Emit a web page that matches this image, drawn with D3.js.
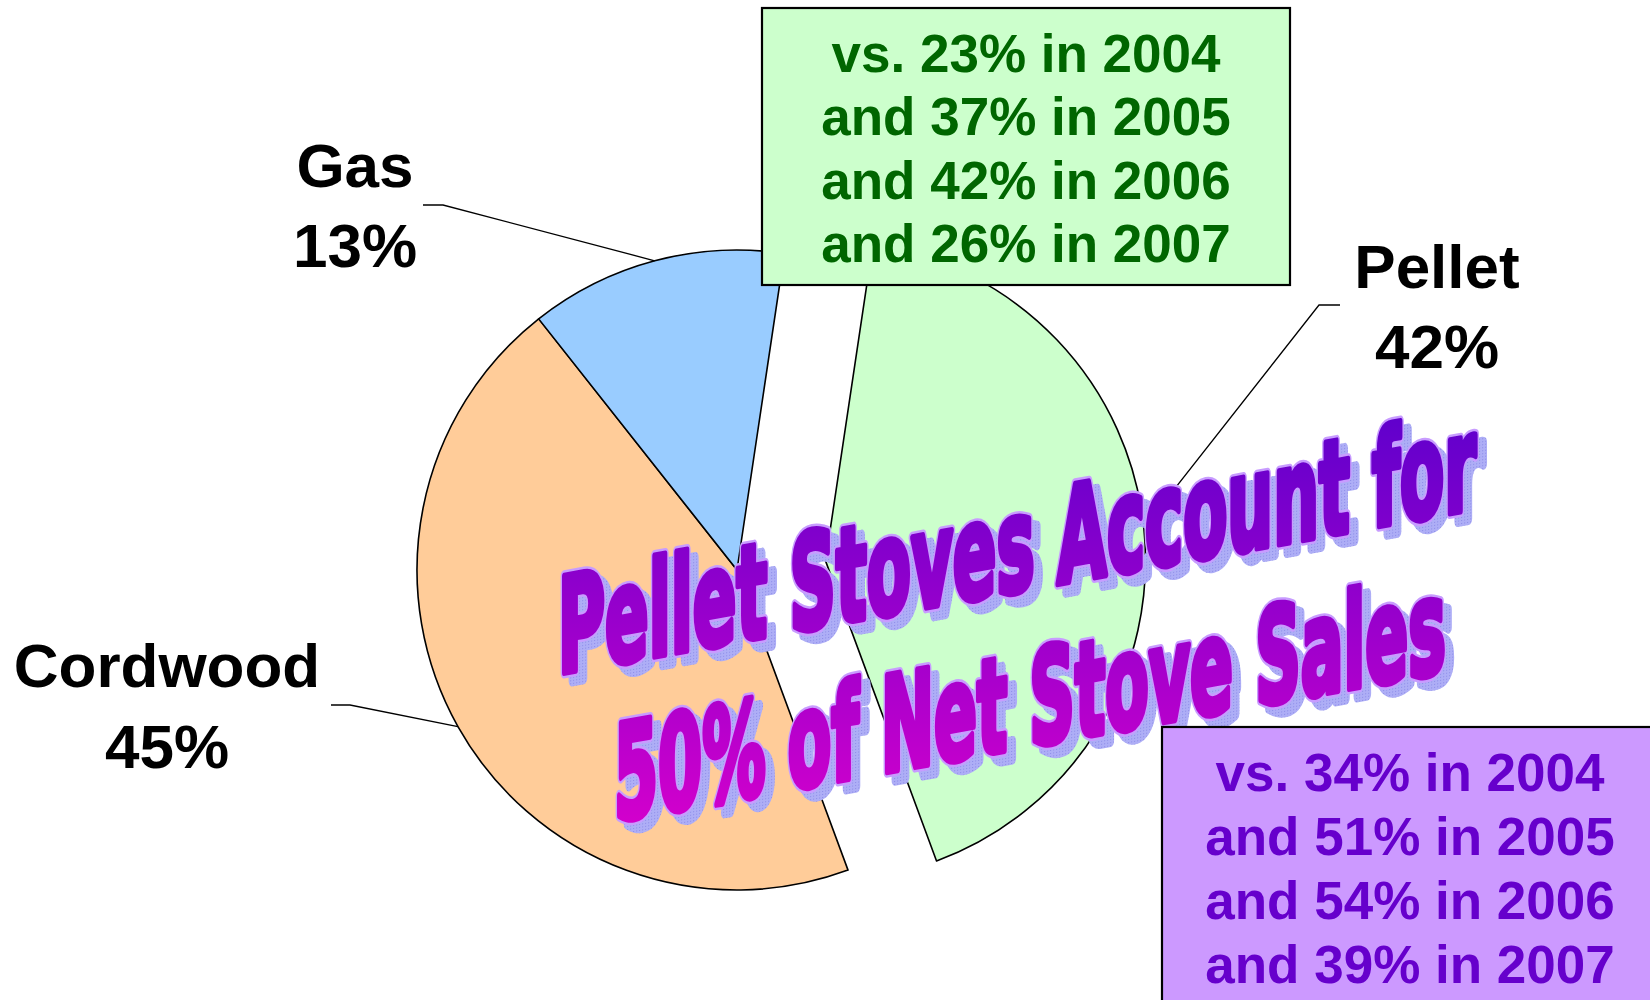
<!DOCTYPE html>
<html>
<head>
<meta charset="utf-8">
<script src="https://cdn.jsdelivr.net/npm/d3@7"></script>
<style>
  html, body { margin: 0; padding: 0; background: #ffffff; }
  svg { display: block; }
</style>
</head>
<body>
<svg id="chart" width="1650" height="1000"></svg>
<script>
// ---------------- data ----------------
const categories = ["Pellet", "Cordwood", "Gas"];
const shares = [42, 45, 13];
const sliceColors = ["#CCFFCC", "#FFCC99", "#99CCFF"];
const explodedCategory = "Pellet";

const years = [2004, 2005, 2006, 2007];
const pelletShareOfUnits = [23, 37, 42, 26];   // green box
const pelletShareOfNet = [34, 51, 54, 39];     // purple box

const titleLines = ["Pellet Stoves Account for", "50% of Net Stove Sales"];

// ---------------- layout ----------------
const svg = d3.select("#chart");
const W = 1650, H = 1000;
svg.append("rect").attr("width", W).attr("height", H).attr("fill", "#ffffff");

const cx = 737, cy = 570, R = 320, explodeDist = 89;
const startDeg = 8.5;
const rad = d => d * Math.PI / 180;

const data = categories.map((c, i) => ({ name: c, value: shares[i], color: sliceColors[i] }));

const pie = d3.pie()
  .sort(null)
  .value(d => d.value)
  .startAngle(rad(startDeg))
  .endAngle(rad(startDeg) + 2 * Math.PI);

const arcs = pie(data);
const arcGen = d3.arc().innerRadius(0).outerRadius(R);

function sliceOffset(d) {
  const off = d.data.name === explodedCategory ? explodeDist : 0;
  const m = (d.startAngle + d.endAngle) / 2;
  return [cx + off * Math.sin(m), cy - off * Math.cos(m)];
}

const pieG = svg.append("g");
pieG.selectAll("path")
  .data(arcs)
  .join("path")
  .attr("transform", d => { const o = sliceOffset(d); return `translate(${o[0]},${o[1]})`; })
  .attr("d", arcGen)
  .attr("fill", d => d.data.color)
  .attr("stroke", "#000")
  .attr("stroke-width", 1.6)
  .attr("stroke-linejoin", "round");

// ---------------- labels + leader lines ----------------
const labelLayout = {
  Gas:      { x: 355,  y1: 187, y2: 267, lead: [[423, 205], [443, 205]] },
  Cordwood: { x: 167,  y1: 687, y2: 768, lead: [[331, 705], [350, 705]] },
  Pellet:   { x: 1437, y1: 288, y2: 368, lead: [[1340, 305], [1319, 305]] }
};

const labelG = svg.append("g");
arcs.forEach(d => {
  const L = labelLayout[d.data.name];
  const o = sliceOffset(d);
  const m = (d.startAngle + d.endAngle) / 2;
  const px = o[0] + R * Math.sin(m), py = o[1] - R * Math.cos(m);
  const pts = [L.lead[0], L.lead[1], [px, py]];
  labelG.append("path")
    .attr("d", d3.line()(pts))
    .attr("fill", "none")
    .attr("stroke", "#000")
    .attr("stroke-width", 1.3);
  const t = labelG.append("text")
    .attr("text-anchor", "middle")
    .attr("font-family", "'Liberation Sans', Arial, sans-serif")
    .attr("font-weight", "bold")
    .attr("font-size", 62)
    .attr("fill", "#000");
  t.append("tspan").attr("x", L.x).attr("y", L.y1).text(d.data.name);
  t.append("tspan").attr("x", L.x).attr("y", L.y2).text(d3.format("d")(d.data.value) + "%");
});

// ---------------- green box ----------------
function drawBox(x, y, w, h, fill, textColor, values, cxText, baseline0, step) {
  const g = svg.append("g");
  g.append("rect")
    .attr("x", x).attr("y", y).attr("width", w).attr("height", h)
    .attr("fill", fill).attr("stroke", "#000").attr("stroke-width", 2.2);
  const t = g.append("text")
    .attr("text-anchor", "middle")
    .attr("font-family", "'Liberation Sans', Arial, sans-serif")
    .attr("font-weight", "bold")
    .attr("font-size", 53)
    .attr("fill", textColor);
  values.forEach((v, i) => {
    t.append("tspan")
      .attr("x", cxText)
      .attr("y", baseline0 + i * step)
      .text((i === 0 ? "vs. " : "and ") + v + "% in " + years[i]);
  });
  return g;
}

drawBox(762, 8, 528, 277, "#CCFFCC", "#006600", pelletShareOfUnits, 1026, 72, 63.3);

// ---------------- WordArt title ----------------
const defs = svg.append("defs");
const skewDeg = -10.2;
const k = Math.tan(rad(skewDeg)); // negative slope

const grad = defs.append("linearGradient")
  .attr("id", "titleGrad")
  .attr("gradientUnits", "userSpaceOnUse")
  .attr("x1", 0).attr("y1", 410).attr("x2", 0).attr("y2", 830)
  .attr("gradientTransform", `skewY(${-skewDeg})`);
grad.append("stop").attr("offset", 0).attr("stop-color", "#5E00CC");
grad.append("stop").attr("offset", 1).attr("stop-color", "#D400CC");

const pat = defs.append("pattern")
  .attr("id", "dots")
  .attr("patternUnits", "userSpaceOnUse")
  .attr("width", 3).attr("height", 3);
pat.append("rect").attr("width", 3).attr("height", 3).attr("fill", "#AEAEF6");
pat.append("rect").attr("width", 1).attr("height", 1).attr("fill", "#8C8CE8");

const titleG = svg.append("g").attr("transform", `skewY(${skewDeg})`);
const lineSpecs = [
  { gx: 1017, gy: 591, len: 918 },
  { gx: 1030, gy: 746, len: 832 }
];
const fontSize = 132;
const shadowDx = 8, shadowDy = 8;

function titleText(g, i, dx, dy) {
  const s = lineSpecs[i];
  const lx = s.gx + dx;
  const ly = s.gy + dy - (s.gx + dx) * k;
  return g.append("text")
    .attr("x", lx).attr("y", ly)
    .attr("text-anchor", "middle")
    .attr("textLength", s.len)
    .attr("lengthAdjust", "spacingAndGlyphs")
    .attr("font-family", "'DejaVu Sans Condensed', 'DejaVu Sans', sans-serif")
    .attr("font-stretch", "condensed")
    .attr("font-weight", "bold")
    .attr("font-size", fontSize)
    .attr("stroke-linejoin", "round")
    .text(titleLines[i]);
}

titleLines.forEach((_, i) => {
  titleText(titleG, i, shadowDx, shadowDy)
    .attr("fill", "url(#dots)").attr("stroke", "url(#dots)").attr("stroke-width", 12);
});
titleLines.forEach((_, i) => {
  titleText(titleG, i, 0, 0)
    .attr("fill", "#C89CFF").attr("stroke", "#C89CFF").attr("stroke-width", 12);
  titleText(titleG, i, 0, 0)
    .attr("fill", "url(#titleGrad)").attr("stroke", "url(#titleGrad)").attr("stroke-width", 7);
});

// ---------------- purple box (on top) ----------------
drawBox(1162, 727, 500, 290, "#CC99FF", "#6600CC", pelletShareOfNet, 1410, 791, 64);
</script>
</body>
</html>
